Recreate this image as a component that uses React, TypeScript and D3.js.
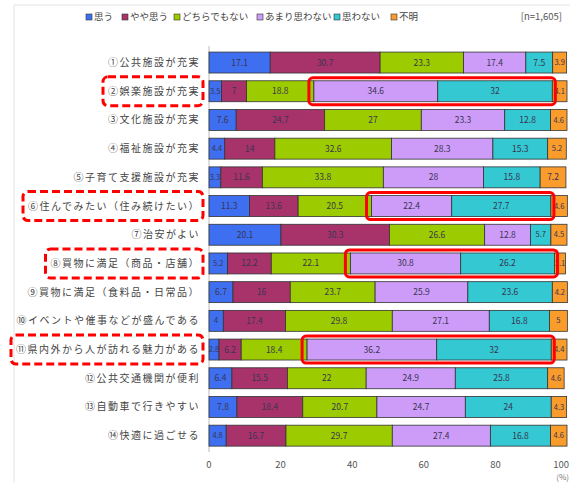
import React, { useEffect, useRef } from 'react';
import * as d3 from 'd3';

const categories = [
  '①公共施設が充実',
  '②娯楽施設が充実',
  '③文化施設が充実',
  '④福祉施設が充実',
  '⑤子育て支援施設が充実',
  '⑥住んでみたい（住み続けたい）',
  '⑦治安がよい',
  '⑧買物に満足（商品・店舗）',
  '⑨買物に満足（食料品・日常品）',
  '⑩イベントや催事などが盛んである',
  '⑪県内外から人が訪れる魅力がある',
  '⑫公共交通機関が便利',
  '⑬自動車で行きやすい',
  '⑭快適に過ごせる',
];

const seriesNames = ['思う', 'やや思う', 'どちらでもない', 'あまり思わない', '思わない', '不明'];

const omou = [17.1, 3.5, 7.6, 4.4, 3.3, 11.3, 20.1, 5.2, 6.7, 4, 2.8, 6.4, 7.8, 4.8];
const yayaOmou = [30.7, 7, 24.7, 14, 11.6, 13.6, 30.3, 12.2, 16, 17.4, 6.2, 15.5, 18.4, 16.7];
const dochira = [23.3, 18.8, 27, 32.6, 33.8, 20.5, 26.6, 22.1, 23.7, 29.8, 18.4, 22, 20.7, 29.7];
const amari = [17.4, 34.6, 23.3, 28.3, 28.0, 22.4, 12.8, 30.8, 25.9, 27.1, 36.2, 24.9, 24.7, 27.4];
const omowanai = [7.5, 32, 12.8, 15.3, 15.8, 27.7, 5.7, 26.2, 23.6, 16.8, 32, 25.8, 24, 16.8];
const fumei = [3.9, 4.1, 4.6, 5.2, 7.2, 4.6, 4.5, 3.1, 4.2, 5, 4.4, 4.6, 4.3, 4.6];

const xTicks = [0, 20, 40, 60, 80, 100];
const sampleNote = '[n=1,605]';
// rows marked in red in the original (label dashed, 'あまり思わない'+'思わない' boxed)
const highlighted = [1, 5, 7, 10];

const colors = ['#3d6ff0', '#a8336b', '#9ccc00', '#cc9cf8', '#33c8d2', '#f99c2c'];
const font = '"Noto Sans CJK JP", "Noto Sans", sans-serif';

const App: React.FC = () => {
  const svgRef = useRef<SVGSVGElement>(null);

  useEffect(() => {
    if (!svgRef.current) return;
    const width = 570;
    const height = 483;
    const series = [omou, yayaOmou, dochira, amari, omowanai, fumei];

    d3.select(svgRef.current).selectAll('*').remove();
    const svg = d3.select(svgRef.current)
      .attr('width', width)
      .attr('height', height);

    svg.append('rect')
      .attr('width', width).attr('height', height).attr('fill', '#fff');

    // faint frame
    svg.append('line').attr('x1', 14).attr('x2', width).attr('y1', 5).attr('y2', 5)
      .attr('stroke', '#e2e2e2');
    svg.append('line').attr('x1', 14).attr('x2', 14).attr('y1', 5).attr('y2', height)
      .attr('stroke', '#e2e2e2');

    const x = d3.scaleLinear().domain([0, 100]).range([209, 567]);
    const y = d3.scaleBand<string>()
      .domain(categories)
      .range([48.2, 450])
      .paddingInner(0.27)
      .paddingOuter(0.135);

    // stacked rows
    const rows = categories.map((c, i) => {
      let acc = 0;
      return series.map((s, k) => {
        const start = acc;
        acc += s[i];
        return { cat: c, row: i, k, v: s[i], start, end: acc };
      });
    });

    svg.append('line')
      .attr('x1', x(0)).attr('x2', x(0))
      .attr('y1', 46).attr('y2', 452)
      .attr('stroke', '#bbb');

    const g = svg.append('g');
    g.selectAll('rect.seg')
      .data(rows.flat())
      .enter()
      .append('rect')
      .attr('class', 'seg')
      .attr('x', d => x(d.start))
      .attr('y', d => y(d.cat) || 0)
      .attr('width', d => x(d.end) - x(d.start))
      .attr('height', y.bandwidth())
      .attr('fill', d => colors[d.k])
      .attr('stroke', '#333')
      .attr('stroke-width', 0.8);

    g.selectAll('text.val')
      .data(rows.flat())
      .enter()
      .append('text')
      .attr('class', 'val')
      .attr('x', d => (x(d.start) + x(d.end)) / 2)
      .attr('y', d => (y(d.cat) || 0) + y.bandwidth() / 2)
      .attr('dy', '0.35em')
      .attr('text-anchor', 'middle')
      .attr('font-family', font)
      .attr('font-size', d => (d.v < 6 ? 7.5 : 8.5))
      .attr('fill', '#3a3550')
      .text(d => String(d.v));

    // category labels
    const labels = svg.append('g').selectAll('text.cat')
      .data(categories)
      .enter()
      .append('text')
      .attr('class', 'cat')
      .attr('x', 200)
      .attr('y', d => (y(d) || 0) + y.bandwidth() / 2)
      .attr('dy', '0.35em')
      .attr('text-anchor', 'end')
      .attr('font-family', font)
      .attr('font-size', 10)
      .attr('letter-spacing', 1.5)
      .attr('fill', '#444')
      .text(d => d);

    // x axis labels
    svg.append('g').selectAll('text.tick')
      .data(xTicks)
      .enter()
      .append('text')
      .attr('x', d => (d === 100 ? 569 : x(d)))
      .attr('y', 468)
      .attr('text-anchor', d => (d === 100 ? 'end' : 'middle'))
      .attr('font-family', font)
      .attr('font-size', 9.5)
      .attr('fill', '#555')
      .text(d => String(d));
    svg.append('text')
      .attr('x', 569).attr('y', 480)
      .attr('text-anchor', 'end')
      .attr('font-family', font).attr('font-size', 8).attr('fill', '#777')
      .text('(%)');

    // legend
    const legendX = [86, 122, 174, 257, 334, 391];
    const lg = svg.append('g').selectAll('g.lg')
      .data(seriesNames)
      .enter()
      .append('g')
      .attr('transform', (_, i) => `translate(${legendX[i]},17)`);
    lg.append('rect')
      .attr('x', 0).attr('y', -3).attr('width', 6).attr('height', 6)
      .attr('fill', (_, i) => colors[i])
      .attr('stroke', '#333').attr('stroke-width', 0.6);
    lg.append('text')
      .attr('x', 8).attr('dy', '0.35em')
      .attr('font-family', font).attr('font-size', 9.5)
      .attr('fill', '#444')
      .text(d => d);
    svg.append('text')
      .attr('x', 562).attr('y', 17).attr('dy', '0.35em')
      .attr('text-anchor', 'end')
      .attr('font-family', font).attr('font-size', 9.5).attr('fill', '#555')
      .text(sampleNote);

    // red annotations
    const ann = svg.append('g');
    labels.each(function (d, i) {
      if (!highlighted.includes(i)) return;
      const b = (this as SVGTextElement).getBBox();
      ann.append('rect')
        .attr('x', b.x - 5).attr('y', (y(d) || 0) - 4)
        .attr('width', 203 - (b.x - 5)).attr('height', y.bandwidth() + 8)
        .attr('rx', 5)
        .attr('fill', 'none')
        .attr('stroke', '#f00')
        .attr('stroke-width', 3)
        .attr('stroke-dasharray', '8,4');
    });
    highlighted.forEach(i => {
      const r = rows[i];
      const x0 = x(r[3].start) - 5;
      const x1 = x(r[4].end) + 3;
      ann.append('rect')
        .attr('x', x0).attr('y', (y(categories[i]) || 0) - 3)
        .attr('width', x1 - x0).attr('height', y.bandwidth() + 6)
        .attr('rx', 4)
        .attr('fill', 'none')
        .attr('stroke', '#f00')
        .attr('stroke-width', 3);
    });
  }, []);

  return (
    <div style={{ position: 'fixed', left: 0, top: 0 }}>
      <svg ref={svgRef} style={{ display: 'block' }}></svg>
    </div>
  );
};

export default App;
